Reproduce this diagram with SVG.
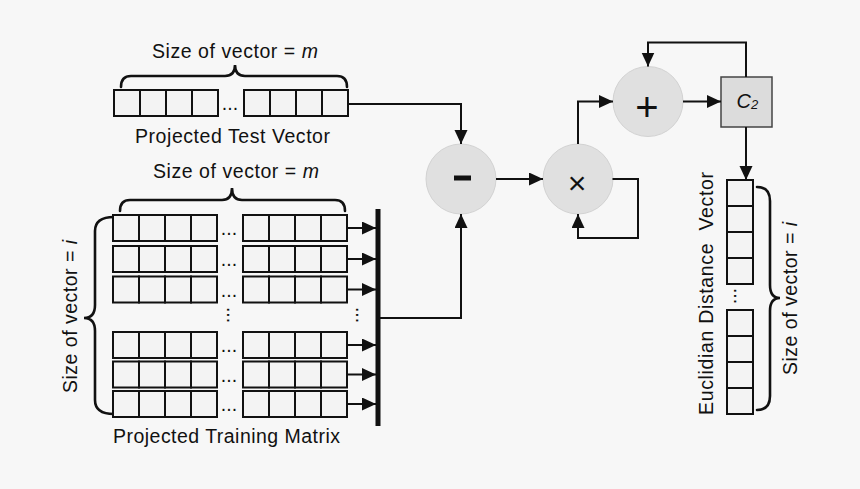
<svg xmlns="http://www.w3.org/2000/svg" xmlns:xlink="http://www.w3.org/1999/xlink" width="860" height="489" viewBox="0 0 860 489">
<style>
.t{font-family:"Liberation Sans",Arial,sans-serif;font-size:19.5px;fill:#111}
.cell{fill:#f3f3f3;stroke:#111;stroke-width:2}
.ln{fill:none;stroke:#111;stroke-width:2}
.br{fill:none;stroke:#111;stroke-width:2.6;stroke-linecap:round}
.op{fill:#e0e0e0;stroke:#d2d2d2;stroke-width:1}
.ar{fill:none;stroke:#111;stroke-width:2;marker-end:url(#ah)}
</style>
<defs>
<marker id="ah" markerUnits="userSpaceOnUse" markerWidth="15" markerHeight="14" refX="14" refY="6.5" orient="auto">
<path d="M0,0 L14,6.5 L0,13 z" fill="#111"/>
</marker>
<g id="row">
<rect class="cell" x="0" y="0" width="26" height="26"/>
<rect class="cell" x="26" y="0" width="26" height="26"/>
<rect class="cell" x="52" y="0" width="26" height="26"/>
<rect class="cell" x="78" y="0" width="26" height="26"/>
<rect class="cell" x="130" y="0" width="26" height="26"/>
<rect class="cell" x="156" y="0" width="26" height="26"/>
<rect class="cell" x="182" y="0" width="26" height="26"/>
<rect class="cell" x="208" y="0" width="26" height="26"/>
<text class="t" x="116" y="20" text-anchor="middle">...</text>
</g>
</defs>
<rect width="860" height="489" fill="#f7f7f7"/>

<g id="test-vector">
<text class="t" x="152" y="58" textLength="166" lengthAdjust="spacing">Size of vector = <tspan font-style="italic">m</tspan></text>
<path class="br" d="M121,87 Q121,76 131,76 L225,76 Q235,76 235,65 Q235,76 245,76 L337,76 Q347,76 347,87"/>
<use xlink:href="#row" x="114" y="90"/>
<text class="t" x="135" y="143" textLength="195" lengthAdjust="spacing">Projected Test Vector</text>
</g>

<g id="training-matrix">
<text class="t" x="153" y="178" textLength="166" lengthAdjust="spacing">Size of vector = <tspan font-style="italic">m</tspan></text>
<path class="br" d="M120,211 Q120,200 130,200 L222,200 Q232,200 232,188 Q232,200 242,200 L335,200 Q345,200 345,211"/>
<path class="br" d="M114,217 Q95,217 95,231 L95,305 Q95,318 84,318 Q95,318 95,331 L95,400 Q95,414 114,414"/>
<text class="t" transform="rotate(-90)" x="-393" y="77" textLength="153" lengthAdjust="spacing">Size of vector = <tspan font-style="italic">i</tspan></text>
<use xlink:href="#row" x="113" y="215"/>
<use xlink:href="#row" x="113" y="246"/>
<use xlink:href="#row" x="113" y="276.5"/>
<use xlink:href="#row" x="113" y="332"/>
<use xlink:href="#row" x="113" y="361.5"/>
<use xlink:href="#row" x="113" y="391"/>
<text class="t" transform="translate(226.5,315) rotate(90)" text-anchor="middle">...</text>
<text class="t" transform="translate(355.5,315) rotate(90)" text-anchor="middle">...</text>
<line x1="378" y1="209" x2="378" y2="426" stroke="#111" stroke-width="5"/>
<text class="t" x="113" y="443" textLength="227" lengthAdjust="spacing">Projected Training Matrix</text>
</g>

<g id="minus">
<circle class="op" cx="461" cy="179" r="35"/>
<rect x="454" y="175.5" width="17" height="5" fill="#111"/>
</g>

<g id="times">
<circle class="op" cx="578" cy="179" r="35"/>
<text x="577" y="194" text-anchor="middle" style="font-family:'Liberation Sans',Arial,sans-serif;font-size:32px;fill:#111">×</text>
</g>

<g id="plus">
<circle class="op" cx="648" cy="101.5" r="35"/>
<text x="647" y="121" text-anchor="middle" style="font-family:'Liberation Sans',Arial,sans-serif;font-size:40px;fill:#111">+</text>
</g>

<g id="c2">
<rect x="721" y="77" width="51" height="50" fill="#dcdcdc" stroke="#444" stroke-width="1.5"/>
<text x="736.5" y="108.3" style="font-family:'Liberation Sans',Arial,sans-serif;font-size:20px;font-style:italic;fill:#111">C<tspan font-size="13" dy="1">2</tspan></text>
</g>

<g id="euclidean-vector">
<rect class="cell" x="727" y="180" width="26" height="26"/>
<rect class="cell" x="727" y="206" width="26" height="26"/>
<rect class="cell" x="727" y="232" width="26" height="26"/>
<rect class="cell" x="727" y="258" width="26" height="26"/>
<rect class="cell" x="727" y="310" width="26" height="26"/>
<rect class="cell" x="727" y="336" width="26" height="26"/>
<rect class="cell" x="727" y="362" width="26" height="26"/>
<rect class="cell" x="727" y="388" width="26" height="26"/>
<text class="t" transform="translate(733.5,296) rotate(90)" text-anchor="middle">...</text>
<text class="t" transform="rotate(-90)" x="-415" y="713" textLength="243" lengthAdjust="spacing">Euclidian Distance&#160; Vector</text>
<path class="br" d="M757,187 Q770,187 770,201 L770,285 Q770,298 780,298 Q770,298 770,311 L770,396 Q770,410 757,410"/>
<text class="t" transform="rotate(-90)" x="-375" y="797" textLength="153" lengthAdjust="spacing">Size of vector = <tspan font-style="italic">i</tspan></text>
</g>

<g id="connectors">
<path class="ar" d="M348,104 H461 V144"/>
<path class="ar" d="M380,318 H461 V214"/>
<path class="ar" d="M496,179 H543"/>
<path class="ar" d="M612.5,179 H638 V238 H578 V214"/>
<path class="ar" d="M578,144 V101.5 H613"/>
<path class="ar" d="M683,101.5 H721"/>
<path class="ar" d="M746,77 V42.5 H648 V66.5"/>
<path class="ar" d="M746,127 V180"/>
<path class="ar" d="M347,228 H376"/>
<path class="ar" d="M347,259 H376"/>
<path class="ar" d="M347,289.5 H376"/>
<path class="ar" d="M347,345 H376"/>
<path class="ar" d="M347,374.5 H376"/>
<path class="ar" d="M347,404 H376"/>
</g>
</svg>
